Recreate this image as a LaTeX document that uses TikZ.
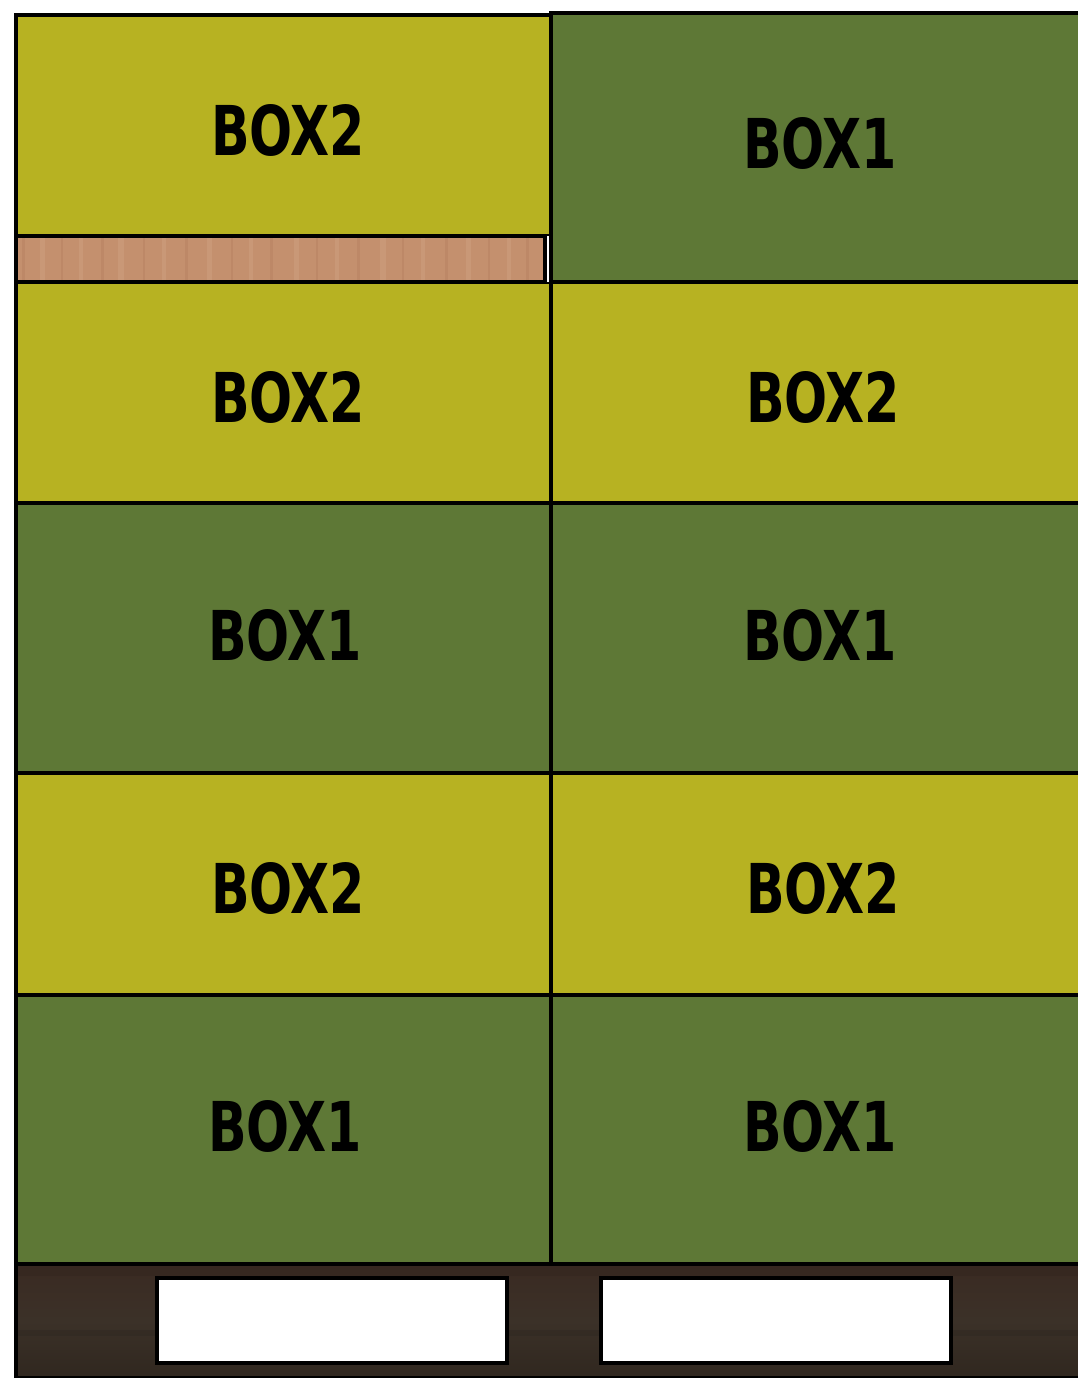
\documentclass[tikz,border=0pt]{standalone}
\usepackage{fontspec}
\setmainfont{DejaVu Sans Condensed}
\usepackage{graphicx}
\definecolor{boxyellow}{HTML}{B7B222}
\definecolor{boxgreen}{HTML}{5E7836}
\definecolor{woodA}{HTML}{C4906E}
\definecolor{woodB}{HTML}{B88262}
\definecolor{woodC}{HTML}{CFA080}
\definecolor{palTop}{HTML}{3A2A22}
\definecolor{palMid}{HTML}{3B3128}
\definecolor{palBot}{HTML}{30271F}
\tikzset{
  boxframe/.style={draw=black, line width=3.5pt, outer sep=0pt},
  yelbox/.style={boxframe, fill=boxyellow},
  grnbox/.style={boxframe, fill=boxgreen},
  slot/.style={draw=black, line width=3.5pt, fill=white, outer sep=0pt},
  boxlabel/.style={inner sep=0pt, text=black, font=\bfseries},
}
\newcommand{\boxtxt}[1]{\resizebox{154pt}{51pt}{#1}}
\begin{document}
\begin{tikzpicture}[x=1pt,y=-1pt]
\useasboundingbox (0,0) rectangle (1078,1378);
\clip (0,0) rectangle (1078,1378);
% pallet
\shade[top color=palTop, bottom color=palBot, middle color=palMid] (16,1264) rectangle (1090,1378);
\fill[palTop!85!black, opacity=0.4] (16,1266) rectangle (1090,1276);
\fill[black!40!palMid, opacity=0.2] (16,1330) rectangle (1090,1336);
\draw[line width=3.5pt] (16,1264) -- (16,1378);
\draw[line width=2pt] (16,1377) -- (1090,1377);
\node[slot, minimum width=350pt, minimum height=85pt, anchor=north west] (s1) at (157,1278) {};
\node[slot, minimum width=350pt, minimum height=85pt, anchor=north west] (s2) at (601,1278) {};
% left column
\node[yelbox, anchor=north west, minimum width=535pt, minimum height=221pt] (l1) at (16,15) {};
\node[yelbox, anchor=north west, minimum width=535pt, minimum height=221pt] (l2) at (16,282) {};
\node[grnbox, anchor=north west, minimum width=535pt, minimum height=270pt] (l3) at (16,503) {};
\node[yelbox, anchor=north west, minimum width=535pt, minimum height=222pt] (l4) at (16,773) {};
\node[grnbox, anchor=north west, minimum width=535pt, minimum height=269pt] (l5) at (16,995) {};
% wood strip
\fill[white] (545,236) rectangle (551,282);
\fill[woodA] (16,236) rectangle (545,282);
\foreach \x/\c/\w in {22/woodB/3,40/woodC/5,61/woodB/2,79/woodC/4,101/woodB/3,118/woodC/6,143/woodB/2,162/woodC/4,185/woodB/3,207/woodC/5,231/woodB/2,249/woodC/4,270/woodB/3,294/woodC/5,316/woodB/2,335/woodC/4,357/woodB/3,380/woodC/6,402/woodB/2,421/woodC/4,445/woodB/3,466/woodC/5,488/woodB/2,507/woodC/4,526/woodB/3}
  \fill[\c, opacity=0.5] (\x,238) rectangle (\x+\w,280);
\draw[boxframe] (16,236) rectangle (545,282);
% right column
\node[grnbox, anchor=north west, minimum width=535pt, minimum height=269pt] (r1) at (551,13) {};
\node[yelbox, anchor=north west, minimum width=535pt, minimum height=221pt] (r2) at (551,282) {};
\node[grnbox, anchor=north west, minimum width=535pt, minimum height=270pt] (r3) at (551,503) {};
\node[yelbox, anchor=north west, minimum width=535pt, minimum height=222pt] (r4) at (551,773) {};
\node[grnbox, anchor=north west, minimum width=535pt, minimum height=269pt] (r5) at (551,995) {};
% labels
\node[boxlabel] (t1) at (288,130) {\boxtxt{BOX2}};
\node[boxlabel] (t2) at (820,143) {\boxtxt{BOX1}};
\node[boxlabel] (t3) at (288,397) {\boxtxt{BOX2}};
\node[boxlabel] (t4) at (823,397) {\boxtxt{BOX2}};
\node[boxlabel] (t5) at (285,635) {\boxtxt{BOX1}};
\node[boxlabel] (t6) at (820,635) {\boxtxt{BOX1}};
\node[boxlabel] (t7) at (288,888) {\boxtxt{BOX2}};
\node[boxlabel] (t8) at (823,888) {\boxtxt{BOX2}};
\node[boxlabel] (t9) at (285,1126) {\boxtxt{BOX1}};
\node[boxlabel] (t10) at (820,1126) {\boxtxt{BOX1}};
\end{tikzpicture}
\end{document}
